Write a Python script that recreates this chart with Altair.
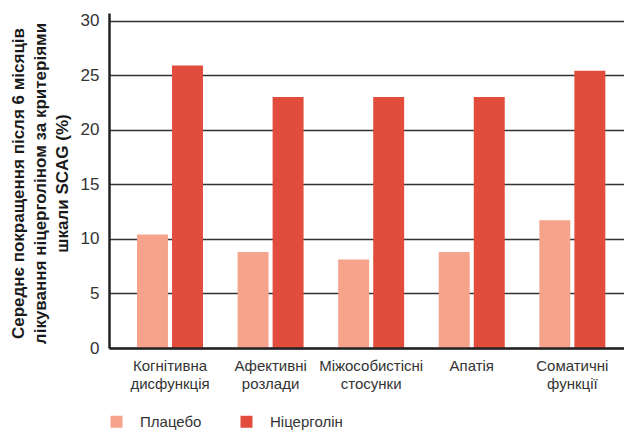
import altair as alt
import pandas as pd

categories = ["Когнітивна|дисфункція", "Афективні|розлади", "Міжособистісні|стосунки", "Апатія", "Соматичні|функції"]
series = ["Плацебо", "Ніцерголін"]
placebo = [10.4, 8.8, 8.1, 8.8, 11.7]
nicergoline = [25.9, 23.0, 23.0, 23.0, 25.4]
y_ticks = [0, 5, 10, 15, 20, 25, 30]
colors = ["#F5A48B", "#E24C3D"]

rows = []
for i, c in enumerate(categories):
    rows.append({"cat": c, "group": series[0], "value": placebo[i]})
    rows.append({"cat": c, "group": series[1], "value": nicergoline[i]})
df = pd.DataFrame(rows)

FONT = "Liberation Sans"

chart = alt.Chart(df).mark_bar().encode(
    x=alt.X("cat:N", sort=categories,
            scale=alt.Scale(paddingInner=0.344, paddingOuter=0.232, align=0.6),
            axis=alt.Axis(title=None, labelAngle=0, ticks=False, labelPadding=10,
                          labelExpr="split(datum.label, '|')", labelFontSize=15,
                          labelColor="#333333", labelLineHeight=18,
                          domainColor="#222222", domainWidth=2.5, zindex=1,
                          labelFont=FONT)),
    xOffset=alt.XOffset("group:N", sort=series, scale=alt.Scale(paddingInner=0.116)),
    y=alt.Y("value:Q", scale=alt.Scale(domain=[0, 30.7], nice=False),
            axis=alt.Axis(values=y_ticks, ticks=False, labelPadding=10,
                          labelFontSize=17, labelColor="#333333", labelFont=FONT,
                          domainColor="#222222", domainWidth=2.5,
                          gridColor="#333333", gridWidth=1.5,
                          title=["Середнє покращення після 6 місяців",
                                 "лікування ніцерголіном за критеріями",
                                 "шкали SCAG (%)"],
                          titleFont=FONT, titleFontSize=17, titleFontWeight="bold",
                          titleColor="#1a1a1a", titleAngle=-90, titleBaseline="top",
                          titleX=-99, titleY=170, titleLineHeight=22)),
    color=alt.Color("group:N", sort=series,
                    scale=alt.Scale(domain=series, range=colors),
                    legend=alt.Legend(title=None, orient="none", legendX=0, legendY=401,
                                      direction="horizontal", symbolType="square",
                                      symbolSize=144, symbolStrokeWidth=0,
                                      labelFontSize=15, labelFont=FONT,
                                      labelColor="#333333", labelOffset=16,
                                      columnPadding=37)),
).properties(
    width=515, height=335,
    autosize=alt.AutoSizeParams(type="none"),
    padding={"left": 109, "top": 13, "right": 0, "bottom": 82},
).configure_view(stroke=None)

chart.save("out.html", embed_options={"renderer": "svg", "actions": False})
